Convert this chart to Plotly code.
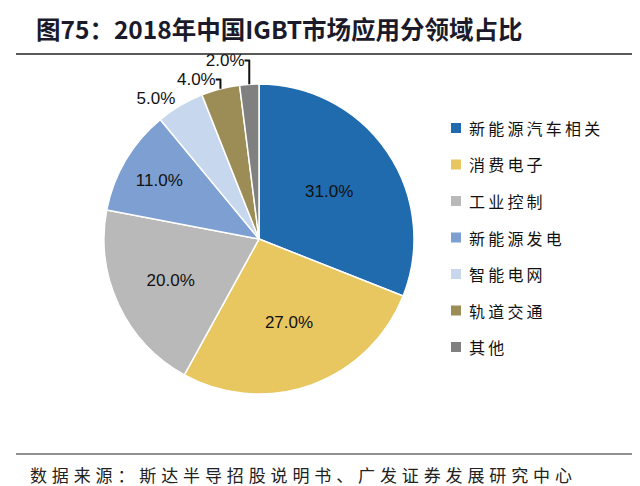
import plotly.graph_objects as go

categories = ["新能源汽车相关", "消费电子", "工业控制", "新能源发电", "智能电网", "轨道交通", "其他"]
values = [31.0, 27.0, 20.0, 11.0, 5.0, 4.0, 2.0]
colors = ["#1F6BAE", "#E8C660", "#B9B9B9", "#7D9FD2", "#C6D7EE", "#9C8C55", "#808080"]
positions = ["inside", "inside", "inside", "inside", "outside", "outside", "outside"]

W, H = 640, 486
def spaced(s, sp="\u2009"):
    return sp.join(s)

fig = go.Figure(go.Pie(
    labels=categories, values=values, sort=False, direction="clockwise", rotation=0,
    marker=dict(colors=colors, line=dict(color="white", width=1.5)),
    texttemplate="%{value:.1f}%", textposition=positions,
    insidetextorientation="horizontal",
    textfont=dict(family="Liberation Sans Narrow, Liberation Sans, Arial", size=17, color="#111"),
    domain=dict(x=[96 / W, 406 / W], y=[(H - 386) / H, (H - 76) / H]),
    showlegend=False, hoverinfo="skip",
))

shapes = [
    dict(type="line", xref="paper", yref="paper", x0=8 / W, x1=632 / W, y0=(H - 46) / H, y1=(H - 46) / H,
         line=dict(color="#222", width=1.5)),
    dict(type="line", xref="paper", yref="paper", x0=8 / W, x1=632 / W, y0=(H - 446) / H, y1=(H - 446) / H,
         line=dict(color="#222", width=1)),
]
annotations = [
    dict(text="<b>图75：2018年中国IGBT市场应用分领域占比</b>", x=26 / W, y=(H - 20) / H,
         xref="paper", yref="paper", xanchor="left", yanchor="middle", showarrow=False,
         font=dict(family="Noto Sans CJK SC", size=24.5, color="#1a1a2a")),
    dict(text=spaced("数据来源：斯达半导招股说明书、广发证券发展研究中心", " \u200a"), x=20 / W, y=(H - 466) / H,
         xref="paper", yref="paper", xanchor="left", yanchor="middle", showarrow=False,
         font=dict(family="Noto Sans CJK SC", size=17, color="#222")),
]
for i, (c, col) in enumerate(zip(categories, colors)):
    yc = 120 + i * 36.5
    shapes.append(dict(type="rect", xref="paper", yref="paper", x0=443 / W, x1=453 / W,
                       y0=(H - yc - 5) / H, y1=(H - yc + 5) / H, fillcolor=col, line=dict(width=0)))
    annotations.append(dict(text=spaced(c), x=459 / W, y=(H - yc) / H, xref="paper", yref="paper",
                            xanchor="left", yanchor="middle", showarrow=False,
                            font=dict(family="Noto Sans CJK SC", size=16, color="#111")))

fig.update_layout(width=W, height=H, margin=dict(l=0, r=0, t=0, b=0),
                  paper_bgcolor="white", plot_bgcolor="white",
                  shapes=shapes, annotations=annotations)
fig.write_html("out.html")
